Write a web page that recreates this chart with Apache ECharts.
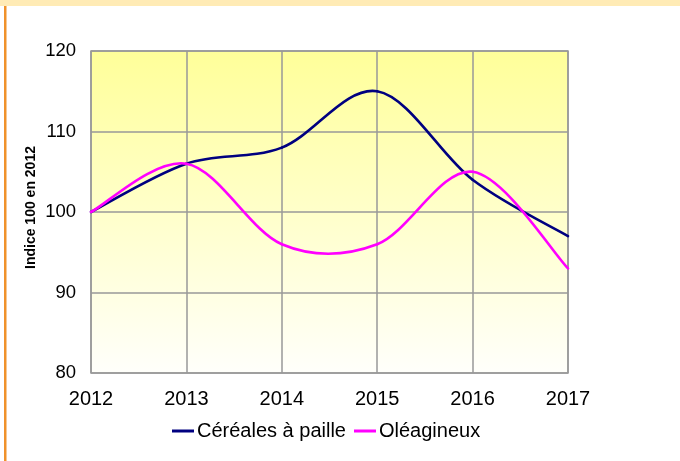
<!DOCTYPE html>
<html>
<head>
<meta charset="utf-8">
<script src="https://cdn.jsdelivr.net/npm/echarts@6/dist/echarts.min.js"></script>
<style>
html,body{margin:0;padding:0;background:#fff;}
#chart{width:680px;height:461px;}
</style>
</head>
<body>
<div id="chart"></div>
<script>
const years = ['2012','2013','2014','2015','2016','2017'];
const cereales = [100, 106, 108, 115, 104, 97];
const oleagineux = [100, 106, 96, 96, 105, 93];
const seriesNames = ['Céréales à paille', 'Oléagineux'];
const seriesColors = ['#000080', '#FF00FF'];
const yTicks = {min: 80, max: 120, interval: 10};

const font = '"Liberation Sans", Arial, sans-serif';

// Smoothed line (Catmull-Rom style Bézier, like spreadsheet smoothing),
// drawn segment by segment from data through the axis scales.
function smoothSeries(name, values, color) {
  return {
    name: name,
    type: 'custom',
    coordinateSystem: 'cartesian2d',
    data: values.map((v, i) => [i, v]),
    encode: {x: 0, y: 1},
    itemStyle: {color: color},
    renderItem: function (params, api) {
      const i = params.dataIndex;
      const n = values.length;
      if (i >= n - 1) return null;
      const pt = j => {
        const k = Math.max(0, Math.min(n - 1, j));
        return api.coord([k, values[k]]);
      };
      const p0 = pt(i - 1), p1 = pt(i), p2 = pt(i + 1), p3 = pt(i + 2);
      const t = 1 / 6;
      return {
        type: 'bezierCurve',
        shape: {
          x1: p1[0], y1: p1[1],
          x2: p2[0], y2: p2[1],
          cpx1: p1[0] + (p2[0] - p0[0]) * t,
          cpy1: p1[1] + (p2[1] - p0[1]) * t,
          cpx2: p2[0] - (p3[0] - p1[0]) * t,
          cpy2: p2[1] - (p3[1] - p1[1]) * t
        },
        style: {stroke: color, lineWidth: 2.6, fill: null, lineCap: 'round'}
      };
    }
  };
}

const chart = echarts.init(document.getElementById('chart'), null, {renderer: 'canvas'});
chart.setOption({
  animation: false,
  backgroundColor: '#ffffff',
  graphic: [
    {type: 'rect', left: 0, top: 0, shape: {width: 680, height: 6}, style: {fill: '#FFEBB5'}, z: 100},
    {type: 'rect', left: 4, top: 6, shape: {width: 2.5, height: 455}, style: {fill: '#F0922B'}, z: 100}
  ],
  grid: {
    left: 91, top: 51, width: 477, height: 322,
    show: true,
    borderColor: '#999999', borderWidth: 1.5,
    backgroundColor: {
      type: 'linear', x: 0, y: 0, x2: 0, y2: 1,
      colorStops: [{offset: 0, color: '#FFFF99'}, {offset: 1, color: '#FFFFFB'}]
    }
  },
  legend: {
    data: seriesNames,
    left: 167, top: 416,
    itemWidth: 22, itemHeight: 3, itemGap: 8,
    icon: 'rect',
    textStyle: {fontFamily: font, fontSize: 20, color: '#000', padding: [0, 0, 0, -2]}
  },
  xAxis: {
    type: 'category', data: years, boundaryGap: false,
    axisLine: {show: false},
    axisTick: {show: false},
    axisLabel: {fontFamily: font, fontSize: 20, color: '#000', margin: 16},
    splitLine: {show: true, lineStyle: {color: '#999999', width: 1.5}}
  },
  yAxis: {
    type: 'value', min: yTicks.min, max: yTicks.max, interval: yTicks.interval,
    name: 'Indice 100 en 2012', nameLocation: 'middle', nameGap: 53, nameRotate: 90,
    nameMoveOverlap: false,
    nameTextStyle: {fontFamily: font, fontSize: 14, fontWeight: 'bold', color: '#000', padding: [0, 0, 0, 9]},
    axisLine: {show: false},
    axisTick: {show: false},
    axisLabel: {fontFamily: font, fontSize: 18.5, color: '#000', margin: 15},
    splitLine: {show: true, lineStyle: {color: '#999999', width: 1.5}}
  },
  series: [
    smoothSeries(seriesNames[0], cereales, seriesColors[0]),
    smoothSeries(seriesNames[1], oleagineux, seriesColors[1])
  ]
});
</script>
</body>
</html>
